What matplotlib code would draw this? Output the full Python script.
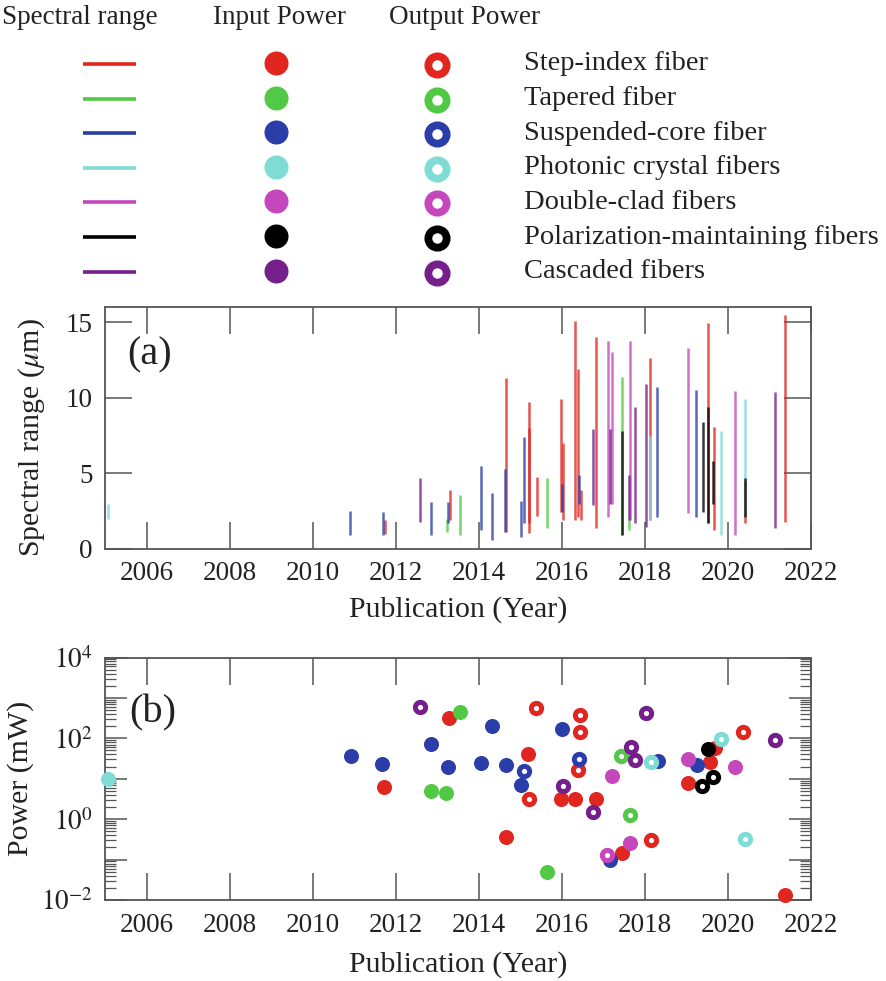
import math
import matplotlib
matplotlib.use("Agg")
import matplotlib.pyplot as plt
from matplotlib.ticker import FixedLocator, LogLocator, FuncFormatter, NullFormatter

plt.rcParams['font.family'] = ['Liberation Serif', 'DejaVu Serif']
plt.rcParams['mathtext.fontset'] = 'stix'

# ---- fiber categories and their colours ----
fiber_names = ["Step-index fiber", "Tapered fiber", "Suspended-core fiber",
               "Photonic crystal fibers", "Double-clad fibers",
               "Polarization-maintaining fibers", "Cascaded fibers"]
fiber_colors = ["#E0261F", "#52C944", "#2B3DA8", "#7FDCD5", "#C447BC", "#000000", "#741F8C"]

# ---- spectral ranges: (publication year, lower edge um, upper edge um) ----
step_index_ranges = [(2011.75, 1.0, 1.9), (2013.30, 1.9, 3.9), (2014.66, 1.15, 11.3),
                     (2015.20, 1.05, 9.7), (2015.22, 1.7, 8.0), (2015.40, 2.2, 4.75),
                     (2015.98, 2.45, 9.9), (2016.04, 1.9, 7.0), (2016.32, 1.9, 15.1),
                     (2016.40, 2.1, 11.9), (2016.45, 1.9, 3.9), (2016.83, 1.4, 14.0),
                     (2018.12, 1.9, 12.65), (2019.53, 1.7, 14.95), (2019.67, 1.25, 8.05),
                     (2020.40, 1.7, 4.5), (2021.38, 1.8, 15.45)]
tapered_ranges = [(2013.23, 1.1, 2.0), (2013.54, 0.92, 3.55), (2015.64, 1.4, 4.7),
                  (2017.44, 0.9, 11.4), (2017.62, 1.25, 2.0)]
suspended_core_ranges = [(2010.91, 0.9, 2.5), (2011.70, 0.95, 2.45), (2012.84, 0.9, 3.1),
                         (2013.27, 1.7, 3.1), (2014.06, 1.25, 5.5), (2014.32, 0.6, 3.7),
                         (2014.64, 1.15, 5.3), (2015.02, 0.8, 3.2), (2015.08, 1.7, 7.4),
                         (2016.00, 2.45, 4.3), (2016.42, 3.0, 4.9), (2018.30, 2.1, 10.7),
                         (2019.24, 2.1, 10.5)]
pcf_ranges = [(2005.08, 2.0, 3.0), (2018.13, 1.9, 7.5), (2019.84, 0.9, 7.8),
              (2020.40, 2.1, 9.9)]
double_clad_ranges = [(2017.10, 2.1, 13.75), (2017.20, 3.0, 13.0), (2017.63, 1.9, 13.75),
                      (2019.04, 2.35, 13.3), (2020.17, 0.9, 10.45)]
pm_ranges = [(2017.45, 0.9, 7.8), (2019.39, 2.45, 8.4), (2019.52, 1.7, 9.4),
             (2019.65, 3.0, 5.85), (2020.42, 2.1, 4.7)]
cascaded_ranges = [(2012.59, 1.8, 4.7), (2016.74, 2.9, 7.96), (2017.17, 3.0, 7.96),
                   (2017.62, 1.9, 4.9), (2017.76, 1.7, 9.4), (2018.02, 1.45, 10.9),
                   (2021.13, 1.4, 10.35)]

# ---- input power: (publication year, mW) ----
step_index_input = [(2011.73, 6.1), (2013.29, 316), (2014.66, 0.355), (2015.18, 41.5),
                    (2015.97, 3.15), (2016.31, 3.15), (2016.83, 3.15), (2017.44, 0.147),
                    (2019.04, 7.8), (2019.57, 25.3), (2019.70, 57), (2021.38, 0.013)]
tapered_input = [(2012.85, 5.0), (2013.22, 4.4), (2013.56, 460), (2015.64, 0.049)]
suspended_core_input = [(2010.93, 37.6), (2011.67, 23.4), (2012.85, 73), (2013.27, 19.5),
                        (2014.06, 24.4), (2014.32, 203), (2014.66, 21.8), (2015.02, 7.1),
                        (2016.00, 168), (2017.17, 0.095), (2018.32, 26.8), (2019.25, 22)]
pcf_input = [(2005.08, 10)]
double_clad_input = [(2017.20, 11.8), (2017.63, 0.26), (2019.05, 30.6), (2020.16, 20)]
pm_input = [(2019.53, 54)]
cascaded_input = []

# ---- output power: (publication year, mW) ----
step_index_output = [(2015.22, 3.15), (2015.38, 560), (2016.43, 380), (2016.43, 147),
                     (2016.40, 16.6), (2018.14, 0.30), (2020.37, 147)]
tapered_output = [(2017.42, 35.6), (2017.63, 1.24)]
suspended_core_output = [(2015.08, 16), (2016.42, 30.6)]
pcf_output = [(2018.14, 25.3), (2019.84, 95), (2020.40, 0.32)]
double_clad_output = [(2017.08, 0.13)]
pm_output = [(2019.37, 6.46), (2019.65, 11.0)]
cascaded_output = [(2012.59, 589), (2016.04, 6.46), (2016.74, 1.47), (2017.67, 60.8),
                   (2017.76, 29.5), (2018.02, 434), (2021.13, 91)]

all_ranges = [step_index_ranges, tapered_ranges, suspended_core_ranges, pcf_ranges,
              double_clad_ranges, pm_ranges, cascaded_ranges]
all_inputs = [step_index_input, tapered_input, suspended_core_input, pcf_input,
              double_clad_input, pm_input, cascaded_input]
all_outputs = [step_index_output, tapered_output, suspended_core_output, pcf_output,
               double_clad_output, pm_output, cascaded_output]

year_ticks = list(range(2006, 2023, 2))
range_ticks = [0, 5, 10, 15]

text_color = "#222222"
spine_color = "#555555"

W, H = 887, 981
fig = plt.figure(figsize=(W / 100, H / 100), dpi=100)

# ---------------- key at the top ----------------
key = fig.add_axes([0, 0, 1, 1], zorder=-1)
key.set_xlim(0, W)
key.set_ylim(H, 0)
key.axis("off")
hdr_fs = 19.5
key.text(80, 18, "Spectral range", ha="center", va="center", fontsize=hdr_fs, color=text_color)
key.text(279, 18, "Input Power", ha="center", va="center", fontsize=hdr_fs, color=text_color)
key.text(465, 18, "Output Power", ha="center", va="center", fontsize=hdr_fs, color=text_color)
for i, (name, col) in enumerate(zip(fiber_names, fiber_colors)):
    yy = 64 + i * 34.6
    key.plot([83, 136], [yy, yy], color=col, lw=2.6, solid_capstyle="butt")
    key.plot([276], [yy - 1], "o", ms=16.3, color=col, mec=col)
    key.plot([437], [yy + 1], "o", ms=13.2, mfc="white", mec=col, mew=5.6)
    key.text(524, yy, name, ha="left", va="center", fontsize=20.5, color=text_color)

# ---------------- common axis styling ----------------
def style_axes(ax, labelpad):
    for s in ax.spines.values():
        s.set_color(spine_color)
        s.set_linewidth(1.3)
    ax.tick_params(which="major", direction="in", length=19.5, width=1.1,
                   color=spine_color, top=True, right=True, labelsize=19.5,
                   labelcolor=text_color, pad=9)
    ax.set_xlim(2005, 2022)
    ax.xaxis.set_major_locator(FixedLocator(year_ticks))
    ax.set_xlabel("Publication (Year)", fontsize=21.5, color=text_color, labelpad=labelpad)

# ---------------- (a) spectral range ----------------
ax1 = fig.add_axes([105 / W, 1 - 549 / H, 706 / W, 242 / H])
style_axes(ax1, 7)
for ranges, col in zip(all_ranges, fiber_colors):
    for yr, lo, hi in ranges:
        ax1.vlines(yr, lo, hi, color=col, lw=1.8, alpha=0.78)
ax1.set_ylim(0, 16)
ax1.yaxis.set_major_locator(FixedLocator(range_ticks))
ax1.set_ylabel(r"Spectral range ($\mu$m)", fontsize=21.5, color=text_color)
ax1.yaxis.set_label_coords(-0.082, 0.46)
ax1.text(0.032, 0.80, "(a)", transform=ax1.transAxes, fontsize=29, color=text_color,
         ha="left", va="center")

# ---------------- (b) power ----------------
def power_label(v, pos):
    e = round(math.log10(v))
    return r"$10^{%d}$" % e if e % 2 == 0 else ""

ax2 = fig.add_axes([105 / W, 1 - 900 / H, 706 / W, 242.5 / H])
style_axes(ax2, 10)
ax2.set_yscale("log")
ax2.set_ylim(1e-2, 1e4)
ax2.yaxis.set_major_locator(LogLocator(base=10, numticks=20))
ax2.yaxis.set_major_formatter(FuncFormatter(power_label))
ax2.yaxis.set_minor_locator(LogLocator(base=10, subs=range(2, 10), numticks=20))
ax2.yaxis.set_minor_formatter(NullFormatter())
ax2.tick_params(axis="y", which="major", length=16)
ax2.tick_params(axis="y", which="minor", direction="in", length=8, width=0.9,
                color=spine_color, right=True, left=True)
for pts, col in zip(all_inputs, fiber_colors):
    if pts:
        xs, ys = zip(*pts)
        ax2.plot(xs, ys, "o", ms=9.8, color=col, mec=col, ls="none", clip_on=False, zorder=3)
for pts, col in zip(all_outputs, fiber_colors):
    if pts:
        xs, ys = zip(*pts)
        ax2.plot(xs, ys, "o", ms=7.4, mfc="white", mec=col, mew=3.6, ls="none",
                 clip_on=False, zorder=4)
ax2.set_ylabel("Power (mW)", fontsize=21.5, color=text_color)
ax2.yaxis.set_label_coords(-0.1, 0.5)
ax2.text(0.035, 0.77, "(b)", transform=ax2.transAxes, fontsize=29, color=text_color,
         ha="left", va="center")

fig.savefig("out.png", dpi=100)
